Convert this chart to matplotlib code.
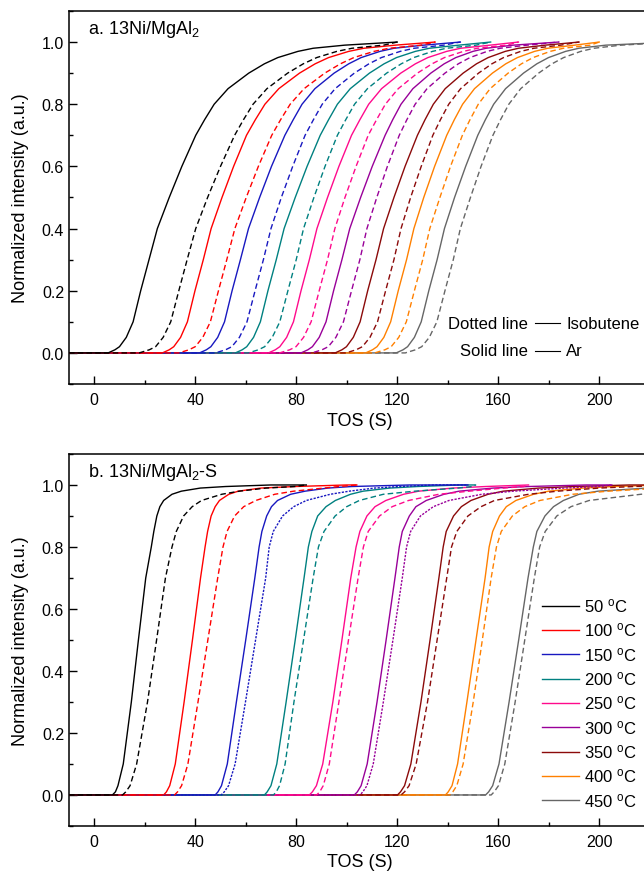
import matplotlib
matplotlib.use("Agg")
import matplotlib.pyplot as plt
from matplotlib.ticker import MultipleLocator

plt.rcParams["font.family"] = ["Liberation Sans", "DejaVu Sans"]
plt.rcParams["mathtext.fontset"] = "custom"
plt.rcParams["mathtext.rm"] = "Liberation Sans"
plt.rcParams["mathtext.it"] = "Liberation Sans:italic"

temps = [50, 100, 150, 200, 250, 300, 350, 400, 450]
colors = ["#000000", "#ff0000", "#1818c0", "#008080", "#ff0a8c",
          "#990099", "#8b0a0a", "#ff8000", "#666666"]
x_start = -10

# panel a: TOS (s) at which each curve reaches the normalized intensity in top_levels
top_levels = [0, 0.01, 0.02, 0.05, 0.1, 0.2, 0.3, 0.4, 0.5, 0.6, 0.7,
              0.75, 0.8, 0.85, 0.9, 0.93, 0.95, 0.97, 0.98, 0.99, 1.0]
top_ar = [
    [5.5, 8.2, 10.0, 12.7, 15.4, 18.4, 21.7, 25.0, 29.7, 34.7, 40.2,
     43.7, 47.5, 53.0, 61.2, 67.4, 72.7, 80.7, 86.7, 99.2, 120],
    [27.0, 29.7, 31.5, 34.2, 36.9, 39.9, 43.2, 46.3, 50.6, 55.2, 60.3,
     63.8, 67.6, 73.1, 81.3, 87.5, 92.8, 100.8, 106.8, 119.3, 135],
    [41.7, 44.4, 46.2, 48.9, 51.6, 54.6, 57.9, 61.1, 65.5, 70.2, 75.5,
     78.8, 82.3, 87.4, 95.0, 100.8, 105.7, 113.2, 118.7, 130.4, 145],
    [55.9, 58.6, 60.4, 63.1, 65.8, 68.8, 72.1, 75.2, 79.6, 84.3, 89.5,
     92.8, 96.3, 101.4, 109.0, 114.8, 119.7, 127.2, 132.7, 144.4, 157],
    [69.0, 71.7, 73.5, 76.2, 78.9, 81.9, 85.2, 88.2, 92.4, 96.9, 101.9,
     105.2, 108.7, 113.8, 121.4, 127.2, 132.1, 139.6, 145.1, 156.8, 168],
    [81.9, 84.6, 86.4, 89.1, 91.8, 94.8, 98.1, 101.2, 105.5, 110.1, 115.2,
     118.2, 121.5, 126.2, 133.3, 138.6, 143.2, 150.0, 155.2, 165.9, 184],
    [95.4, 98.1, 99.9, 102.6, 105.3, 108.3, 111.6, 114.6, 118.7, 123.1, 128.0,
     131.0, 134.3, 139.0, 146.1, 151.4, 156.0, 162.8, 168.0, 178.7, 192],
    [107.5, 110.2, 112.0, 114.7, 117.4, 120.4, 123.7, 126.6, 130.5, 134.8, 139.6,
     142.6, 145.9, 150.6, 157.7, 163.0, 167.6, 174.4, 179.6, 190.3, 200],
    [119.6, 122.3, 124.1, 126.8, 129.5, 132.5, 135.8, 138.7, 142.7, 147.1, 151.9,
     154.9, 158.2, 162.9, 170.0, 175.3, 179.9, 186.7, 191.9, 202.6, 230],
]
top_iso = [
    [17.8, 21.8, 24.3, 27.3, 30.3, 33.5, 36.8, 40.2, 44.9, 50.0, 55.6,
     59.1, 62.9, 68.4, 76.6, 82.8, 88.1, 96.1, 102.1, 114.6, 120],
    [33.5, 37.5, 40.0, 43.0, 46.0, 49.2, 52.5, 55.7, 60.2, 65.0, 70.3,
     73.8, 77.6, 83.1, 91.3, 97.5, 102.8, 110.8, 116.8, 129.3, 135],
    [48.0, 52.0, 54.5, 57.5, 60.5, 63.7, 67.0, 70.0, 74.1, 78.6, 83.5,
     86.8, 90.3, 95.4, 103.0, 108.8, 113.7, 121.2, 126.7, 138.4, 145],
    [61.0, 65.0, 67.5, 70.5, 73.5, 76.7, 80.0, 82.9, 87.0, 91.4, 96.3,
     99.6, 103.1, 108.2, 115.8, 121.6, 126.5, 134.0, 139.5, 151.2, 157],
    [73.4, 77.4, 79.9, 82.9, 85.9, 89.1, 92.4, 95.3, 99.3, 103.7, 108.5,
     111.8, 115.3, 120.4, 128.0, 133.8, 138.7, 146.2, 151.7, 163.4, 168],
    [86.2, 90.2, 92.7, 95.7, 98.7, 101.9, 105.2, 108.0, 111.9, 116.1, 120.8,
     123.8, 127.1, 131.8, 138.9, 144.2, 148.8, 155.6, 160.8, 171.5, 184],
    [99.7, 103.7, 106.2, 109.2, 112.2, 115.4, 118.7, 121.5, 125.3, 129.5, 134.1,
     137.1, 140.4, 145.1, 152.2, 157.5, 162.1, 168.9, 174.1, 184.8, 192],
    [111.1, 115.1, 117.6, 120.6, 123.6, 126.8, 130.1, 132.9, 136.9, 141.1, 145.8,
     148.8, 152.1, 156.8, 163.9, 169.2, 173.8, 180.6, 185.8, 196.5, 200],
    [123.2, 127.2, 129.7, 132.7, 135.7, 138.9, 142.2, 145.0, 149.0, 153.2, 157.9,
     160.9, 164.2, 168.9, 176.0, 181.3, 185.9, 192.7, 197.9, 208.6, 230],
]
top_end = [120, 135, 145, 157, 168, 184, 192, 200, 230]

# panel b
bot_levels = [0, 0.01, 0.03, 0.1, 0.3, 0.5, 0.7, 0.8, 0.85, 0.9,
              0.93, 0.95, 0.97, 0.98, 0.99, 0.995, 1.0]
bot_ar = [
    [7.2, 8.4, 9.4, 11.5, 14.7, 17.5, 20.4, 22.6, 23.6, 24.8,
     26.0, 27.5, 30.8, 34.5, 42.0, 52.0, 70.0],
    [27.5, 28.6, 29.9, 32.1, 35.6, 38.9, 42.1, 43.9, 44.9, 46.3,
     47.9, 49.6, 53.3, 57.0, 66.0, 79.5, 100.0],
    [47.9, 49.0, 50.4, 52.7, 56.3, 60.0, 63.6, 65.3, 66.4, 68.3,
     70.2, 72.6, 77.8, 83.5, 92.5, 102.0, 125.0],
    [67.4, 68.5, 70.0, 72.3, 76.0, 79.6, 83.1, 84.8, 86.2, 88.5,
     91.8, 95.5, 101.5, 106.5, 117.0, 128.0, 145.0],
    [85.2, 86.4, 88.0, 90.5, 94.5, 98.1, 101.6, 103.7, 105.2, 108.0,
     111.2, 115.5, 122.5, 128.5, 142.0, 155.0, 172.0],
    [103.0, 104.2, 105.7, 108.1, 112.0, 115.6, 119.1, 120.8, 122.0, 124.8,
     127.4, 131.5, 138.5, 144.5, 158.0, 172.0, 195.0],
    [120.1, 121.3, 122.9, 125.4, 129.4, 133.0, 136.5, 138.2, 139.4, 142.3,
     145.4, 149.2, 156.0, 162.0, 176.0, 190.0, 212.0],
    [139.1, 140.2, 141.7, 143.9, 147.6, 151.2, 154.8, 156.4, 157.8, 160.5,
     163.2, 167.0, 174.0, 180.0, 193.5, 206.0, 225.0],
    [155.0, 156.2, 157.8, 160.3, 164.3, 168.1, 171.8, 173.9, 175.3, 178.5,
     181.9, 185.8, 192.0, 199.5, 219.0, 235.0, 250.0],
]
bot_iso = [
    [11.2, 12.5, 14.2, 16.8, 21.1, 24.7, 28.2, 30.8, 32.5, 35.4,
     38.8, 42.5, 50.5, 57.5, 68.0, 79.5, 84.0],
    [31.8, 33.0, 34.6, 37.1, 41.1, 45.0, 48.9, 51.0, 52.6, 55.6,
     59.2, 64.0, 71.5, 79.0, 91.0, 97.0, 104.0],
    [50.3, 51.5, 53.2, 55.8, 59.9, 63.9, 67.9, 69.3, 70.9, 74.6,
     79.0, 84.0, 93.5, 101.0, 111.0, 121.0, 135.0],
    [71.0, 72.1, 73.4, 75.6, 79.1, 82.9, 86.7, 88.8, 91.0, 95.4,
     100.0, 105.0, 114.5, 127.0, 144.0, 150.0, 151.0],
    [88.1, 89.3, 90.7, 93.1, 96.9, 100.7, 104.5, 106.6, 108.5, 113.0,
     118.0, 124.5, 136.5, 148.5, 162.0, 170.0, 172.0],
    [105.2, 106.4, 108.0, 110.5, 114.5, 118.3, 122.0, 123.7, 125.3, 129.2,
     134.3, 140.5, 153.5, 166.0, 186.0, 200.0, 205.0],
    [121.5, 122.9, 124.7, 127.5, 132.0, 135.8, 139.6, 141.5, 143.6, 148.0,
     153.2, 158.5, 172.0, 183.5, 200.0, 214.0, 230.0],
    [140.8, 142.0, 143.6, 146.1, 150.1, 153.7, 157.2, 159.3, 161.2, 165.6,
     170.5, 176.5, 189.5, 203.5, 225.0, 240.0, 260.0],
    [157.2, 158.4, 160.1, 162.6, 166.7, 170.5, 174.3, 176.4, 178.6, 183.2,
     188.8, 196.0, 216.5, 232.0, 255.0, 270.0, 290.0],
]
bot_end = [84, 104, 148, 151, 172, 205, 230, 230, 250]
bot_iso_dotted = [False, False, True, False, False, True, False, False, False]

DASH = (0, (4, 2.3))
DOT = (0, (1.6, 1.0))


def _style_axes(ax):
    ax.set_xlim(-10, 220)
    ax.set_ylim(-0.1, 1.1)
    ax.xaxis.set_major_locator(MultipleLocator(40))
    ax.xaxis.set_minor_locator(MultipleLocator(20))
    ax.yaxis.set_major_locator(MultipleLocator(0.2))
    ax.yaxis.set_minor_locator(MultipleLocator(0.1))
    ax.yaxis.set_major_formatter(plt.FuncFormatter(lambda v, p: f"{v:.1f}"))
    ax.tick_params(which="both", direction="in", top=False, right=False,
                   labelsize=11.5, width=1.0)
    ax.tick_params(which="major", length=5.5)
    ax.tick_params(which="minor", length=3)
    ax.tick_params(axis="x", which="major", pad=6)
    for s in ax.spines.values():
        s.set_linewidth(1.1)
    ax.set_xlabel("TOS (S)", fontsize=13, labelpad=3)
    ax.set_ylabel("Normalized intensity (a.u.)", fontsize=13, labelpad=9)


def _draw(ax, levels, ar, iso, ends, dotted):
    handles = []
    n = len(temps)
    ys = [0] + levels + [1.0]
    for i in range(n):
        z = 2 + (n - i)
        h, = ax.plot([x_start] + ar[i] + [ends[i]], ys, color=colors[i],
                     lw=1.0, zorder=z + 0.5)
        ls = DOT if dotted[i] else DASH
        ax.plot([x_start] + iso[i] + [ends[i]], ys, color=colors[i], lw=1.0,
                ls=ls, zorder=z)
        handles.append(h)
    return handles


fig = plt.figure(figsize=(6.44, 8.79), dpi=100)
ax1 = fig.add_axes([0.1071, 0.562, 0.9018, 0.4244])
ax2 = fig.add_axes([0.1071, 0.0592, 0.9018, 0.4232])

_draw(ax1, top_levels, top_ar, top_iso, top_end, [False] * len(temps))
_style_axes(ax1)
ax1.text(0.033, 0.952, "a. 13Ni/MgAl$_2$", transform=ax1.transAxes,
         fontsize=13, va="center", ha="left")
for y, left, right in [(0.1635, "Dotted line", "Isobutene"), (0.0885, "Solid line", "Ar")]:
    ax1.text(0.790, y, left, transform=ax1.transAxes, fontsize=12, ha="right", va="center")
    ax1.plot([0.802, 0.845], [y, y], transform=ax1.transAxes, color="black", lw=0.8)
    ax1.text(0.856, y, right, transform=ax1.transAxes, fontsize=12, ha="left", va="center")

handles = _draw(ax2, bot_levels, bot_ar, bot_iso, bot_end, bot_iso_dotted)
_style_axes(ax2)
ax2.text(0.033, 0.952, "b. 13Ni/MgAl$_2$-S", transform=ax2.transAxes,
         fontsize=13, va="center", ha="left")
labels = [f"{t} $^{{\\mathrm{{o}}}}$C" for t in temps]
ax2.legend(handles, labels, loc="upper left", bbox_to_anchor=(0.8145, 0.617),
           frameon=False, fontsize=12, handlelength=2.2, handletextpad=0.3,
           labelspacing=0.38, borderaxespad=0, borderpad=0)

fig.savefig("out.png", dpi=100)
